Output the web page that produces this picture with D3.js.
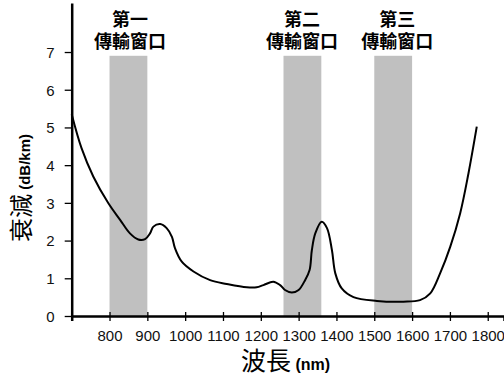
<!DOCTYPE html>
<html><head><meta charset="utf-8">
<script src="https://cdn.jsdelivr.net/npm/d3@7"></script>
<style>body{margin:0;background:#fff}svg{display:block}</style>
</head><body>
<script>
const wavelengths = [700,726,757,797,828,854,876,894,907,916,934,951,965,973,991,1022,1066,1110,1163,1189,1207,1233,1251,1264,1282,1300,1317,1329,1335,1344,1361,1375,1388,1397,1414,1445,1507,1577,1621,1648,1674,1701,1727,1749,1771];
const attenuation = [5.35,4.45,3.70,2.99,2.55,2.19,2.03,2.04,2.19,2.37,2.44,2.33,2.10,1.80,1.44,1.18,0.95,0.85,0.76,0.76,0.82,0.91,0.82,0.69,0.62,0.69,0.95,1.22,1.75,2.19,2.50,2.33,1.75,1.13,0.73,0.50,0.40,0.38,0.42,0.60,1.13,1.84,2.72,3.78,5.02];
const windowStarts = [800,1260,1500];
const windowEnds = [900,1360,1600];
const windowTop = 6.9;
const windowLine1 = ["第一","第二","第三"];
const windowLine2 = ["傳輸窗口","傳輸窗口","傳輸窗口"];
const windowLabelX = [854,1309,1561];
const xTicks = [700,800,900,1000,1100,1200,1300,1400,1500,1600,1700,1800];
const yTicks = [0,1,2,3,4,5,6,7];

const W=504,H=381;
const svg=d3.select("body").append("svg").attr("width",W).attr("height",H);
const x=d3.scaleLinear().domain([700,1843]).range([71.7,504]);
const y=d3.scaleLinear().domain([0,8.3]).range([316,3]);

// bands
svg.selectAll("rect.band").data(windowStarts).enter().append("rect")
  .attr("x",(d)=>x(d)).attr("width",(d,i)=>x(windowEnds[i])-x(d))
  .attr("y",y(windowTop)).attr("height",y(0)-y(windowTop)).attr("fill","#c0c0c0");

// band labels
const cjk="'Noto Sans CJK TC','Noto Sans CJK SC',sans-serif";
windowLine1.forEach((t,i)=>{
  const cx=x(windowLabelX[i]);
  const tx=svg.append("text").attr("text-anchor","middle")
    .attr("font-family",cjk).attr("font-weight","bold").attr("font-size",18);
  tx.append("tspan").attr("x",cx).attr("y",26).text(t);
  tx.append("tspan").attr("x",cx).attr("y",48).text(windowLine2[i]);
});

// curve
const line=d3.line().x((d,i)=>x(wavelengths[i])).y(d=>y(d)).curve(d3.curveCatmullRom.alpha(0.5));
svg.append("path").datum(attenuation).attr("d",line).attr("fill","none").attr("stroke","#000").attr("stroke-width",2);

// x axis
const xa=svg.append("g").attr("transform",`translate(0,${y(0)})`)
  .call(d3.axisBottom(x).tickValues(xTicks).tickSize(5).tickFormat(d=>d===700?"":d));
xa.select(".domain").attr("stroke-width",2.5);
xa.selectAll(".tick line").attr("y1",-4).attr("y2",5).attr("stroke-width",1.3);
xa.selectAll("text").attr("font-family","'Liberation Sans',Arial,sans-serif").attr("font-size",15).attr("fill","#111").attr("dy",0).attr("y",25);

// y axis
const ya=svg.append("g").attr("transform",`translate(${x(700)},0)`)
  .call(d3.axisLeft(y).tickValues(yTicks).tickSize(7).tickSizeOuter(0));
ya.select(".domain").attr("stroke-width",2.5);
ya.selectAll(".tick line").attr("stroke-width",1.3);
ya.selectAll("text").attr("font-family","'Liberation Sans',Arial,sans-serif").attr("font-size",15).attr("fill","#111").attr("x",-17).attr("dy","0.36em");

// y title
const yt=svg.append("text").attr("transform","translate(30,188) rotate(-90)").attr("text-anchor","middle");
yt.append("tspan").attr("font-family",cjk).attr("font-size",24).text("衰減");
yt.append("tspan").attr("font-family","'Liberation Sans',Arial,sans-serif").attr("font-weight","bold").attr("font-size",15).text(" (dB/km)");

// x title
const xt=svg.append("text").attr("x",241).attr("y",370);
xt.append("tspan").attr("font-family",cjk).attr("font-size",25).text("波長");
xt.append("tspan").attr("font-family","'Liberation Sans',Arial,sans-serif").attr("font-weight","bold").attr("font-size",16).text(" (nm)");
</script>
</body></html>
